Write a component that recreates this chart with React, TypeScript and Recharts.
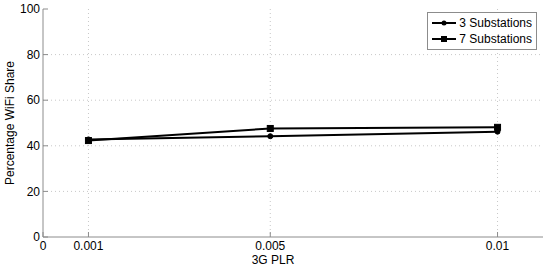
import React from "react";
import { LineChart, Line, XAxis, YAxis, CartesianGrid, Label } from "recharts";

const plr = [0.001, 0.005, 0.01];
const sub3 = [42.8, 44.2, 46.2];
const sub7 = [42.3, 47.6, 48.1];
const xTicks = [0, 0.001, 0.005, 0.01];
const yTicks = [0, 20, 40, 60, 80, 100];
const seriesNames = ["3 Substations", "7 Substations"];

const data = plr.map((x, i) => ({ x, s3: sub3[i], s7: sub7[i] }));

const FONT = "'Liberation Sans', Arial, sans-serif";
const FRAME = "#8c8c8c";

const SquareDot = (props: any) => {
  const { cx, cy } = props;
  if (cx == null || cy == null) return null;
  return <rect x={cx - 3} y={cy - 3} width={6} height={6} fill="#000" stroke="#000" />;
};
const CircleDot = (props: any) => {
  const { cx, cy } = props;
  if (cx == null || cy == null) return null;
  return <circle cx={cx} cy={cy} r={2.5} fill="#000" stroke="#000" />;
};

const LegendBox = () => (
  <div
    style={{
      position: "absolute",
      top: 12,
      right: 13,
      border: "1px solid #8c8c8c",
      background: "#fff",
      padding: "2px 4px 2px 3px",
      fontFamily: FONT,
      fontSize: 12,
      color: "#000",
      lineHeight: "16px",
    }}
  >
    {seriesNames.map((n, i) => (
      <div key={n} style={{ display: "flex", alignItems: "center" }}>
        <svg width={26} height={16} style={{ marginRight: 2 }}>
          <line x1={1} y1={8} x2={25} y2={8} stroke="#000" strokeWidth={2} />
          {i === 0 ? (
            <circle cx={13} cy={8} r={2.5} fill="#000" />
          ) : (
            <rect x={10} y={5} width={6} height={6} fill="#000" />
          )}
        </svg>
        <span>{n}</span>
      </div>
    ))}
  </div>
);

export default function App() {
  return (
    <div style={{ position: "absolute", left: 0, top: 0, width: 550, height: 270, background: "#fff" }}>
      <LineChart
        width={550}
        height={270}
        data={data}
        margin={{ top: 9, right: 7, left: 0, bottom: 0 }}
      >
        <CartesianGrid
          stroke="#c8c8c8"
          strokeDasharray="1 3"
          horizontalValues={[20, 40, 60, 80]}
          verticalValues={[0.001, 0.005, 0.01]}
          yAxisId="left"
          xAxisId="bottom"
        />
        <XAxis
          xAxisId="bottom"
          dataKey="x"
          type="number"
          domain={[0, 0.011]}
          ticks={xTicks}
          tickFormatter={(v: number) => String(v)}
          height={33}
          stroke={FRAME}
          tickSize={-5}
          tickMargin={9}
          tick={{ fill: "#000", fontSize: 12, fontFamily: FONT }}
        >
          <Label
            value="3G PLR"
            position="insideBottom"
            offset={6}
            dx={-20}
            style={{ fill: "#000", fontSize: 12, fontFamily: FONT }}
          />
        </XAxis>
        <XAxis
          xAxisId="top"
          orientation="top"
          dataKey="x"
          type="number"
          domain={[0, 0.011]}
          ticks={xTicks}
          tickFormatter={() => ""}
          height={0}
          stroke={FRAME}
          tickSize={-5}
        />
        <YAxis
          yAxisId="left"
          domain={[0, 100]}
          ticks={yTicks}
          width={43}
          stroke={FRAME}
          tickSize={-5}
          tickMargin={8}
          tick={{ fill: "#000", fontSize: 12, fontFamily: FONT }}
        >
          <Label
            value="Percentage WiFi Share"
            angle={-90}
            position="insideLeft"
            offset={0}
            dx={10}
            dy={0}
            style={{ fill: "#000", fontSize: 12, fontFamily: FONT, textAnchor: "middle" }}
          />
        </YAxis>
        <YAxis
          yAxisId="right"
          orientation="right"
          domain={[0, 100]}
          ticks={yTicks}
          width={0}
          stroke={FRAME}
          tickSize={-5}
          tickFormatter={() => ""}
        />
        <Line
          xAxisId="bottom"
          yAxisId="left"
          dataKey="s3"
          name={seriesNames[0]}
          stroke="#000"
          strokeWidth={2}
          dot={<CircleDot />}
          isAnimationActive={false}
        />
        <Line
          xAxisId="bottom"
          yAxisId="left"
          dataKey="s7"
          name={seriesNames[1]}
          stroke="#000"
          strokeWidth={2}
          dot={<SquareDot />}
          isAnimationActive={false}
        />
      </LineChart>
      <LegendBox />
    </div>
  );
}
